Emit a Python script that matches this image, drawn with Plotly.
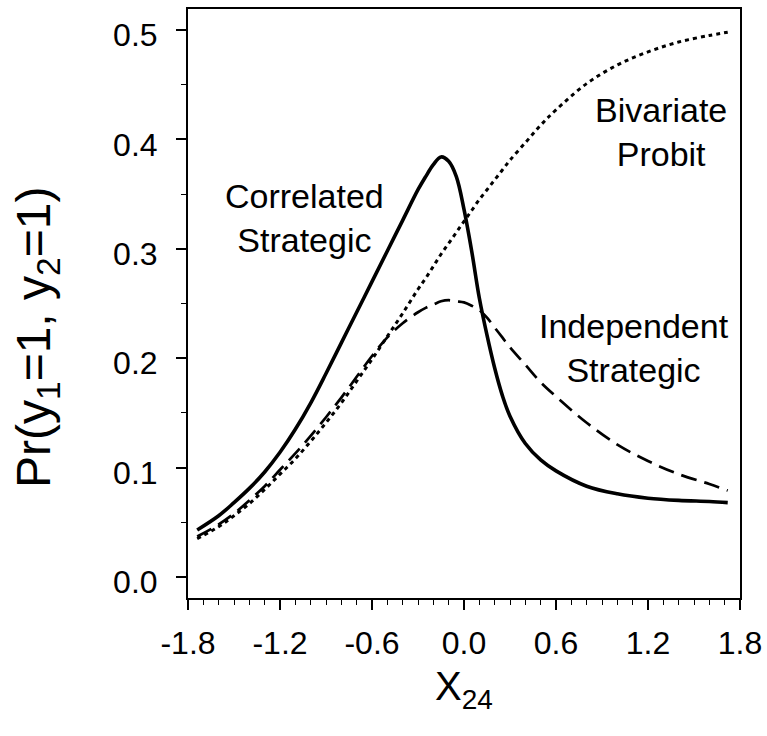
import plotly.graph_objects as go

# X values (X24)
x_vals = [-1.74, -1.6, -1.5, -1.4, -1.3, -1.2, -1.1, -1.0, -0.9, -0.8, -0.7, -0.6,
          -0.5, -0.4, -0.3, -0.25, -0.2, -0.15, -0.1, -0.05, 0.0, 0.05, 0.1, 0.15,
          0.2, 0.25, 0.3, 0.4, 0.5, 0.6, 0.8, 1.0, 1.2, 1.4, 1.6, 1.72]

correlated_strategic = [0.043, 0.056, 0.068, 0.081, 0.096, 0.114, 0.135, 0.159, 0.186, 0.214,
                        0.242, 0.270, 0.298, 0.326, 0.354, 0.366, 0.377, 0.384, 0.380, 0.366,
                        0.336, 0.298, 0.255, 0.221, 0.191, 0.166, 0.147, 0.122, 0.107, 0.097,
                        0.083, 0.076, 0.072, 0.070, 0.069, 0.068]

independent_strategic = [0.037, 0.048, 0.058, 0.070, 0.083, 0.098, 0.113, 0.129, 0.146, 0.164,
                         0.183, 0.202, 0.219, 0.232, 0.242, 0.246, 0.249, 0.252, 0.253, 0.252,
                         0.251, 0.248, 0.244, 0.237, 0.228, 0.219, 0.210, 0.194, 0.178, 0.165,
                         0.141, 0.121, 0.106, 0.094, 0.085, 0.079]

bivariate_probit = [0.035, 0.046, 0.056, 0.067, 0.080, 0.094, 0.108, 0.124, 0.141, 0.159,
                    0.179, 0.199, 0.220, 0.241, 0.263, 0.273, 0.284, 0.295, 0.305, 0.315,
                    0.325, 0.335, 0.345, 0.354, 0.363, 0.372, 0.381, 0.397, 0.413, 0.427,
                    0.451, 0.468, 0.480, 0.489, 0.495, 0.498]

x_tick_vals = [-1.8, -1.2, -0.6, 0.0, 0.6, 1.2, 1.8]
x_tick_text = ["-1.8", "-1.2", "-0.6", "0.0", "0.6", "1.2", "1.8"]
y_tick_vals = [0.0, 0.1, 0.2, 0.3, 0.4, 0.5]
y_tick_text = ["0.0", "0.1", "0.2", "0.3", "0.4", "0.5"]

labels = ["Correlated<br>Strategic", "Bivariate<br>Probit", "Independent<br>Strategic"]
label_x = [-1.043, 1.285, 1.109]
label_y = [0.328, 0.407, 0.209]

y_title = "Pr(y<sub>1</sub>=1, y<sub>2</sub>=1)"
x_title = "X<sub>24</sub>"

FONT = "Liberation Sans, Arial, sans-serif"

fig = go.Figure()
fig.add_trace(go.Scatter(x=x_vals, y=bivariate_probit, mode="lines",
                         line=dict(color="black", width=3, dash="4px,4px", shape="spline"),
                         name="Bivariate Probit"))
fig.add_trace(go.Scatter(x=x_vals, y=independent_strategic, mode="lines",
                         line=dict(color="black", width=2.7, dash="16px,8px", shape="spline"),
                         name="Independent Strategic"))
fig.add_trace(go.Scatter(x=x_vals, y=correlated_strategic, mode="lines",
                         line=dict(color="black", width=3.6, shape="spline"),
                         name="Correlated Strategic"))

for t, lx, ly in zip(labels, label_x, label_y):
    fig.add_annotation(x=lx, y=ly, text=t, showarrow=False, xref="x", yref="y",
                       font=dict(family=FONT, size=34, color="black"),
                       xanchor="center", yanchor="middle", align="center")

# y-axis title (placed as a rotated annotation, slightly below the plot centre as in the reference)
fig.add_annotation(x=-0.2736, y=0.443, xref="paper", yref="paper", text=y_title,
                   textangle=-90, showarrow=False, xanchor="center", yanchor="middle",
                   font=dict(family=FONT, size=48, color="black"))

axis_common = dict(showgrid=False, zeroline=False, showline=True, linecolor="black",
                   linewidth=2, mirror=True, ticks="outside", ticklen=10, tickwidth=1.5,
                   tickcolor="black", tickfont=dict(family=FONT, size=32, color="black"))

fig.update_xaxes(range=[-1.8, 1.8], tickvals=x_tick_vals, ticktext=x_tick_text,
                 minor=dict(dtick=0.1, tick0=-1.8, ticklen=5, tickwidth=1.2, ticks="outside",
                            tickcolor="black", showgrid=False),
                 title=dict(text=x_title, font=dict(family=FONT, size=40, color="black"),
                            standoff=12),
                 ticklabelstandoff=6,
                 **axis_common)
fig.update_yaxes(range=[-0.0192, 0.5192], tickvals=y_tick_vals, ticktext=y_tick_text,
                 minor=dict(dtick=0.05, tick0=0.0, ticklen=5, tickwidth=1.2, ticks="outside",
                            tickcolor="black", showgrid=False),
                 ticklabelstandoff=12, ticklabelshift=5,
                 **axis_common)

fig.update_layout(width=767, height=736, plot_bgcolor="white", paper_bgcolor="white",
                  showlegend=False, margin=dict(l=188, r=27, t=9, b=138, autoexpand=False))

fig.write_html("out.html")
